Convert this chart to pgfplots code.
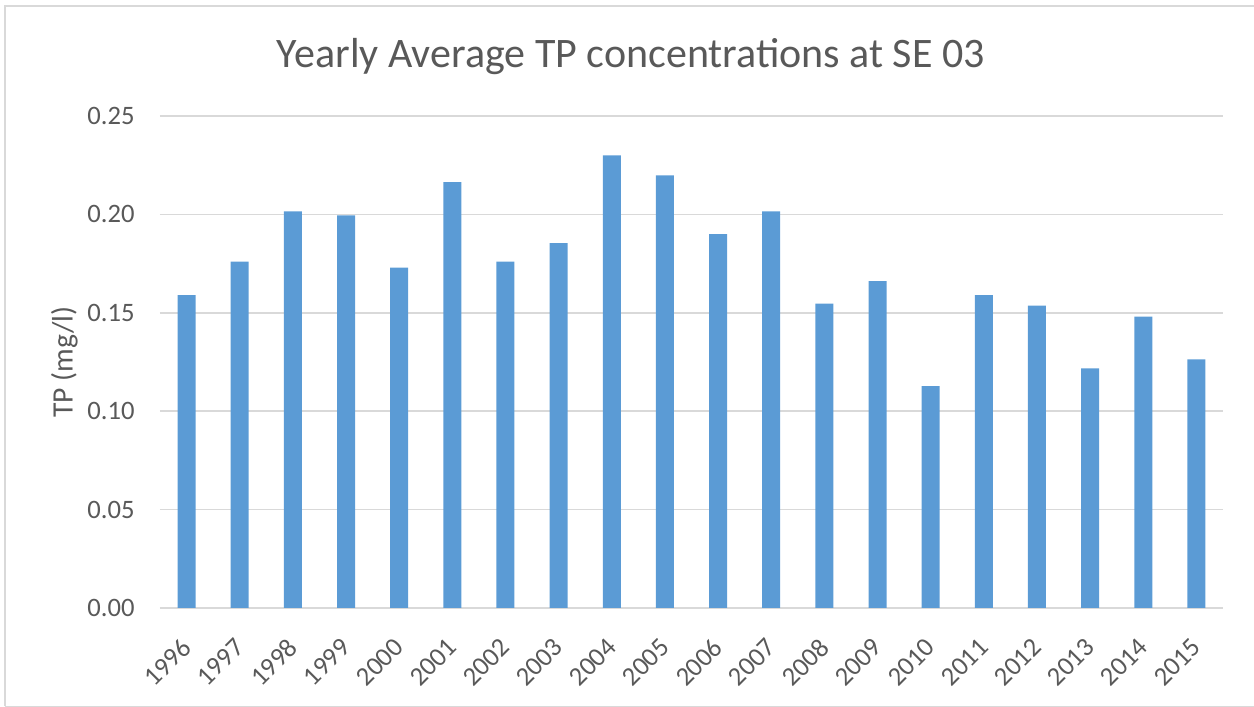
\documentclass[border=0pt]{standalone}
\usepackage{pgfplots}
\pgfplotsset{compat=1.18}
\usepackage{fontspec}
\setmainfont{Carlito}
\definecolor{barblue}{HTML}{5B9BD5}
\definecolor{txtgray}{HTML}{595959}
\definecolor{gridgray}{HTML}{D9D9D9}
\begin{document}
\begin{tikzpicture}
\path[use as bounding box] (0,0) rectangle (627pt,353.5pt);
\draw[gridgray, line width=0.8pt] (2.5pt,0.3pt) -- (2.5pt,350.5pt) -- (627pt,350.5pt);
\draw[gridgray, line width=0.8pt] (2.5pt,0.3pt) -- (627pt,0.3pt);
\begin{axis}[
  at={(80pt,49.5pt)}, anchor=south west,
  scale only axis, width=531.5pt, height=246pt,
  xmin=-0.5, xmax=19.5, ymin=0, ymax=0.25,
  ytick={0,0.05,0.10,0.15,0.20,0.25},
  xtick={0,...,19},
  xticklabels={1996,1997,1998,1999,2000,2001,2002,2003,2004,2005,2006,2007,2008,2009,2010,2011,2012,2013,2014,2015},
  x tick label style={rotate=45, anchor=north east, inner sep=0pt, font=\fontsize{13.3}{15}\selectfont, text=txtgray, xshift=-12.3pt, yshift=-7.8pt},
  y tick label style={inner sep=0pt, xshift=-12.5pt, font=\fontsize{13.3}{15}\selectfont, text=txtgray, /pgf/number format/.cd, fixed, fixed zerofill, precision=2},
  /pgf/number format/assume math mode=true,
  ymajorgrids, grid style={gridgray, line width=0.8pt},
  axis x line*=bottom, axis y line*=left,
  x axis line style={gridgray, line width=0.8pt},
  y axis line style={draw=none},
  major tick length=0pt,
  ylabel={TP (mg/l)},
  every axis y label/.style={at={(axis description cs:-0.0771,0.5)}, rotate=90, anchor=south, inner sep=0pt, font=\fontsize{14.8}{17}\selectfont, text=txtgray},
  title={Yearly Average TP concentrations at SE 03},
  title style={font=\fontsize{21}{24}\selectfont, text=txtgray, at={(0.443,1)}, anchor=base, yshift=18pt},
]
\addplot[ybar, bar width=9pt, fill=barblue, draw=none] coordinates {
(0,0.159) (1,0.176) (2,0.2015) (3,0.1995) (4,0.173) (5,0.2164) (6,0.176) (7,0.1854) (8,0.230) (9,0.2198)
(10,0.190) (11,0.2015) (12,0.1547) (13,0.1661) (14,0.1128) (15,0.159) (16,0.1536) (17,0.1218) (18,0.148) (19,0.1263)
};
\end{axis}
\end{tikzpicture}
\end{document}
